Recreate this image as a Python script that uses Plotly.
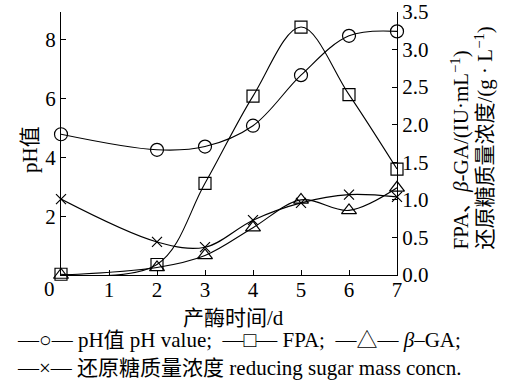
import plotly.graph_objects as go

days = [0, 2, 3, 4, 5, 6, 7]
ph = [4.79, 4.26, 4.37, 5.08, 6.80, 8.14, 8.29]
fpa = [0.01, 0.14, 1.22, 2.38, 3.30, 2.40, 1.41]
bga = [0.0, 0.10, 0.26, 0.63, 1.00, 0.86, 1.16]
sugar = [1.01, 0.44, 0.37, 0.73, 0.96, 1.07, 1.04]

x_ticks = [0, 1, 2, 3, 4, 5, 6, 7]
left_ticks = [2, 4, 6, 8]
right_ticks = [0.0, 0.5, 1.0, 1.5, 2.0, 2.5, 3.0, 3.5]

W, H = 505, 389
L, R, T, B = 61, 108, 12, 114
PW, PH = W - L - R, H - T - B

def px(x):
    return (x - L) / PW

def py(y):
    return (H - B - y) / PH

FONT = "Liberation Serif, Times New Roman, Noto Sans CJK SC, serif"
line = dict(color="black", width=1.1, shape="spline", smoothing=1)

fig = go.Figure()
fig.add_trace(go.Scatter(x=days, y=ph, mode="lines+markers", line=line, cliponaxis=False,
                         marker=dict(symbol="circle-open", size=13, color="black", line=dict(width=1.2)),
                         name="pH", showlegend=False))
fig.add_trace(go.Scatter(x=days, y=fpa, mode="lines+markers", line=line, yaxis="y2", cliponaxis=False,
                         marker=dict(symbol="square-open", size=12, color="black", line=dict(width=1.2)),
                         name="FPA", showlegend=False))
fig.add_trace(go.Scatter(x=days, y=bga, mode="lines+markers", line=line, yaxis="y2", cliponaxis=False,
                         marker=dict(symbol="triangle-up-open", size=13, color="black", line=dict(width=1.2)),
                         name="β-GA", showlegend=False))
fig.add_trace(go.Scatter(x=days, y=sugar, mode="lines+markers", line=line, yaxis="y2", cliponaxis=False,
                         marker=dict(symbol="x-thin-open", size=10, color="black", line=dict(width=1.2)),
                         name="sugar", showlegend=False))

axis_common = dict(showgrid=False, zeroline=False, showline=True, linecolor="black", linewidth=1,
                   ticks="inside", ticklen=5, tickcolor="black", tickwidth=1, automargin=False,
                   ticklabeloverflow="allow",
                   tickfont=dict(family=FONT, size=21, color="black"))

fig.update_layout(
    template="none",
    width=W, height=H, margin=dict(l=L, r=R, t=T, b=B, autoexpand=False),
    paper_bgcolor="white", plot_bgcolor="white",
    xaxis=dict(range=[0, 7], tickvals=x_ticks, ticktext=[""] + [str(v) for v in x_ticks[1:]],
               ticklabelstandoff=-4, **axis_common),
    yaxis=dict(range=[0, 8.95], tickvals=left_ticks, ticktext=[str(v) for v in left_ticks], **axis_common),
    yaxis2=dict(range=[0, 3.5], overlaying="y", side="right", tickvals=right_ticks,
                ticktext=["%.1f" % v for v in right_ticks], **axis_common),
)

def ann(text, x, y, size=21, angle=0, xanchor="center", yanchor="middle"):
    fig.add_annotation(text=text, x=px(x), y=py(y), xref="paper", yref="paper", showarrow=False,
                       textangle=angle, xanchor=xanchor, yanchor=yanchor,
                       font=dict(family=FONT, size=size, color="black"))

ann("0", 49, 289)
ann("产酶时间/d", 234, 318)
ann("pH值", 30, 150, angle=-90)
ann("FPA、<i>β</i>-GA/(IU·mL<sup>−1</sup>)", 460, 252, angle=-90, yanchor="bottom")
ann("还原糖质量浓度/(g · L<sup>−1</sup>)", 484, 252, angle=-90, yanchor="bottom")
ann("—○— pH值 pH value;  —□— FPA;  —△— <i>β</i>–GA;", 15, 340, xanchor="left")
ann("—×— 还原糖质量浓度 reducing sugar mass concn.", 15, 368, xanchor="left")

fig.write_html("out.html", config={"displayModeBar": False},
               post_script="document.body.style.margin='0';document.body.style.padding='0';")
